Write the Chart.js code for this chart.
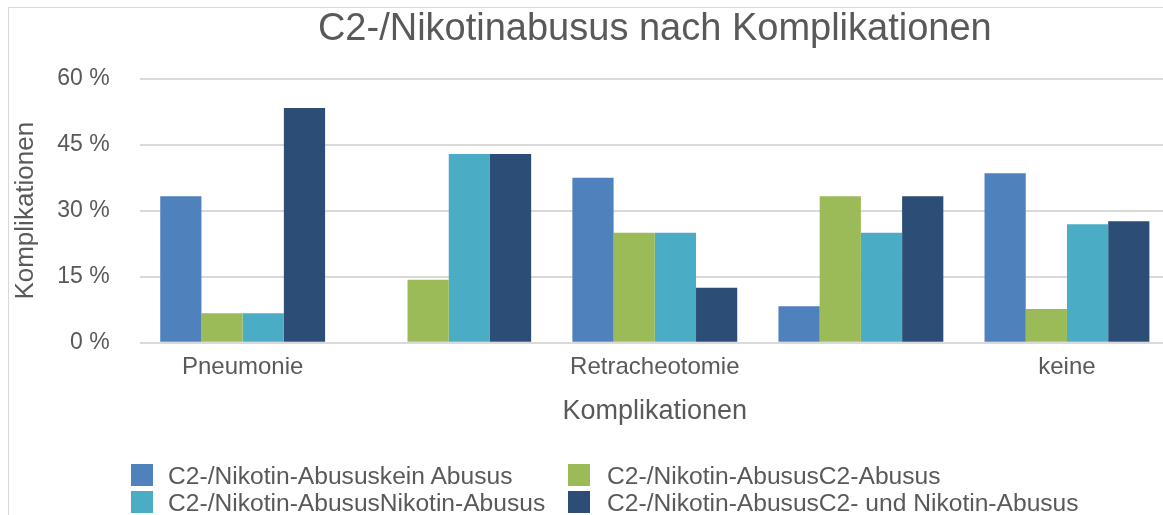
<!DOCTYPE html>
<html>
<head>
<meta charset="utf-8">
<script src="https://cdn.jsdelivr.net/npm/chart.js@4"></script>
<style>
  html, body { margin: 0; padding: 0; background: #fff; }
  #wrap { position: relative; width: 1163px; height: 515px; overflow: hidden; font-family: "Liberation Sans", Arial, Helvetica, sans-serif; }
  #frame { position: absolute; left: 8px; top: 7px; width: 1170px; height: 520px; border: 1px solid #d9d9d9; box-sizing: border-box; }
  canvas { position: absolute; left: 0; top: 0; }
  .lg { position: absolute; font-size: 24.6px; color: #595959; white-space: nowrap; height: 27px; line-height: 27px; }
  .lg span.box { position: absolute; left: 0; top: 2px; width: 22px; height: 22px; }
  .lg span.txt { position: absolute; top: 0; white-space: nowrap; }
</style>
</head>
<body>
<div id="wrap">
  <div id="frame"></div>
  <canvas id="c" width="1170" height="515"></canvas>
  <div id="legend"></div>
</div>
<script>
const title = 'C2-/Nikotinabusus nach Komplikationen';
const xTitle = 'Komplikationen';
const yTitle = 'Komplikationen';
const categories = ['Pneumonie', '', 'Retracheotomie', '', 'keine'];
const seriesNames = [
  'C2-/Nikotin-Abususkein Abusus',
  'C2-/Nikotin-AbususC2-Abusus',
  'C2-/Nikotin-AbususNikotin-Abusus',
  'C2-/Nikotin-AbususC2- und Nikotin-Abusus'
];
const keinAbusus = [33.3, 0, 37.5, 8.3, 38.5];
const c2Abusus = [6.7, 14.3, 25.0, 33.3, 7.7];
const nikotinAbusus = [6.7, 42.9, 25.0, 25.0, 26.9];
const beideAbusus = [53.3, 42.9, 12.5, 33.3, 27.6];
const yTicks = [0, 15, 30, 45, 60];
const colors = ['#4f81bd', '#9bbb59', '#4bacc6', '#2c4d75'];

const seriesValues = [keinAbusus, c2Abusus, nikotinAbusus, beideAbusus];
const fontFam = '"Liberation Sans", Arial, Helvetica, sans-serif';
const grey = '#595959';

new Chart(document.getElementById('c'), {
  type: 'bar',
  data: {
    labels: categories,
    datasets: seriesValues.map((v, i) => ({
      label: seriesNames[i],
      data: v,
      backgroundColor: colors[i],
      borderWidth: 0,
      categoryPercentage: 0.8,
      barPercentage: 1.0
    }))
  },
  options: {
    responsive: false,
    animation: false,
    layout: { padding: { left: 0, right: 0, top: 0, bottom: 87 } },
    plugins: {
      legend: { display: false },
      tooltip: { enabled: false },
      title: {
        display: true,
        fullSize: false,
        text: title,
        color: grey,
        font: { family: fontFam, size: 38, weight: 'normal' },
        padding: { top: 7, bottom: 26 }
      }
    },
    scales: {
      x: {
        grid: { display: false, drawTicks: false },
        border: { display: false },
        ticks: {
          color: grey,
          font: { family: fontFam, size: 24 },
          padding: 10,
          autoSkip: false,
          maxRotation: 0
        },
        title: {
          display: true,
          text: xTitle,
          color: grey,
          font: { family: fontFam, size: 27 },
          padding: { top: 4, bottom: 0 }
        }
      },
      y: {
        min: 0,
        max: 60,
        afterBuildTicks: (axis) => { axis.ticks = yTicks.map(v => ({ value: v })); },
        grid: { color: '#d9d9d9', lineWidth: 2, drawTicks: false },
        border: { display: false },
        ticks: {
          color: grey,
          font: { family: fontFam, size: 23 },
          padding: 30,
          callback: (v) => v + ' %'
        },
        title: {
          display: true,
          text: yTitle,
          color: grey,
          font: { family: fontFam, size: 26 },
          padding: { top: 10, bottom: -14 }
        }
      }
    }
  }
});

// HTML legend (2 x 2 grid)
const legendPos = [[131, 462], [568, 462], [131, 489], [568, 489]];
const textOffset = [37, 39, 37, 39];
const lg = document.getElementById('legend');
seriesNames.forEach((name, i) => {
  const d = document.createElement('div');
  d.className = 'lg';
  d.style.left = legendPos[i][0] + 'px';
  d.style.top = legendPos[i][1] + 'px';
  const b = document.createElement('span');
  b.className = 'box';
  b.style.background = colors[i];
  const t = document.createElement('span');
  t.className = 'txt';
  t.style.left = textOffset[i] + 'px';
  t.textContent = name;
  d.appendChild(b); d.appendChild(t);
  lg.appendChild(d);
});
</script>
</body>
</html>
